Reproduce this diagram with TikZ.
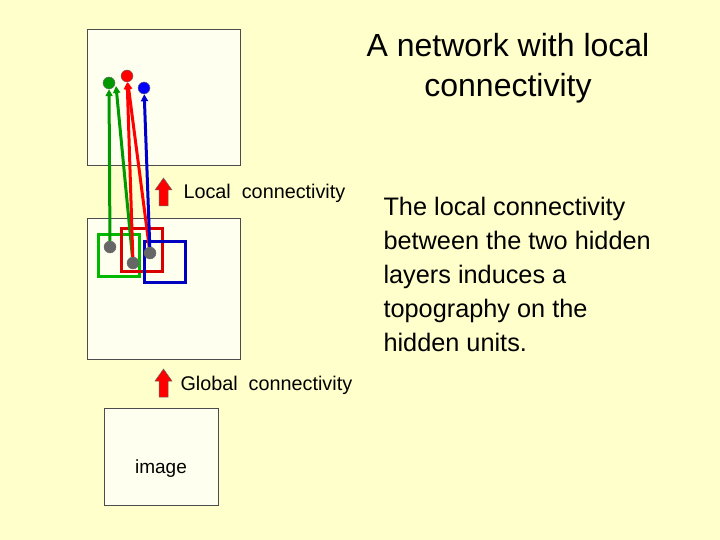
\documentclass[tikz,border=0pt]{standalone}
\usepackage{fontspec}
\setmainfont{Liberation Sans}
\usetikzlibrary{arrows.meta}
\definecolor{bg}{RGB}{255,255,204}
\definecolor{bx}{RGB}{255,255,240}
\begin{document}
\begin{tikzpicture}[x=1pt,y=-1pt,
  lay/.style={draw=black!70,fill=bx,line width=0.8pt},
  dotn/.style={circle,draw=black!60,inner sep=0pt,minimum size=12pt},
  con/.style={line width=3pt,-{Triangle[length=7pt,width=7pt]}},
  up/.style={draw=black!60,fill=red,line width=0.5pt}]
\fill[bg] (0,0) rectangle (720,540);
\useasboundingbox (0,0) rectangle (720,540);
\node[lay,minimum width=153pt,minimum height=136pt,inner sep=0pt] (top) at (163.5,97) {};
\node[lay,minimum width=153pt,minimum height=141pt,inner sep=0pt] (mid) at (163.5,288.5) {};
\node[lay,minimum width=114pt,minimum height=97pt,inner sep=0pt] (img) at (161,456.5) {};
\node[font=\fontsize{19pt}{22pt}\selectfont] at ([yshift=-12pt]img.center) {image};
\draw[green!65!black!80!green,line width=3pt] (98,234) rectangle (139,276);
\draw[red!85!black,line width=3pt] (121,229) rectangle (162,271);
\draw[blue!75!black,line width=3pt] (144,241) rectangle (185,282);
\node[dotn,fill=green!60!black] (g) at (109,83) {};
\node[dotn,fill=red] (r) at (127,76) {};
\node[dotn,fill=blue] (b) at (144,88) {};
\coordinate (g2) at (116,86);
\node[dotn,fill=black!60] (h1) at (110,247) {};
\node[dotn,fill=black!60] (h2) at (133,263) {};
\node[dotn,fill=black!60] (h3) at (150,253) {};
\draw[con,green!60!black] (h1) -- (g);
\draw[con,green!60!black] (h2) -- (g2);
\draw[con,red] (h2) -- (r);
\draw[con,red] (h3) -- (r);
\draw[con,blue!80!black] (h3) -- (b);
\draw[up] (159,206) -- (159,190) -- (155,190) -- (163.5,178) -- (172,190) -- (168,190) -- (168,206) -- cycle;
\draw[up] (159,397) -- (159,381) -- (155,381) -- (163.5,369) -- (172,381) -- (168,381) -- (168,397) -- cycle;
\node[anchor=west,font=\fontsize{19.8pt}{22pt}\selectfont] (l1) at (180,193) {Local\ \ connectivity};
\node[anchor=west,font=\fontsize{19.8pt}{22pt}\selectfont] (l2) at (177,385) {Global\ \ connectivity};
\node[align=center,font=\fontsize{32pt}{40pt}\selectfont] (t) at (508,68) {A network with local\\connectivity};
\node[align=left,anchor=north west,font=\fontsize{25.3pt}{34pt}\selectfont] (body) at (380,194) {The local connectivity\\between the two hidden\\layers induces a\\topography on the\\hidden units.};
\end{tikzpicture}
\end{document}
